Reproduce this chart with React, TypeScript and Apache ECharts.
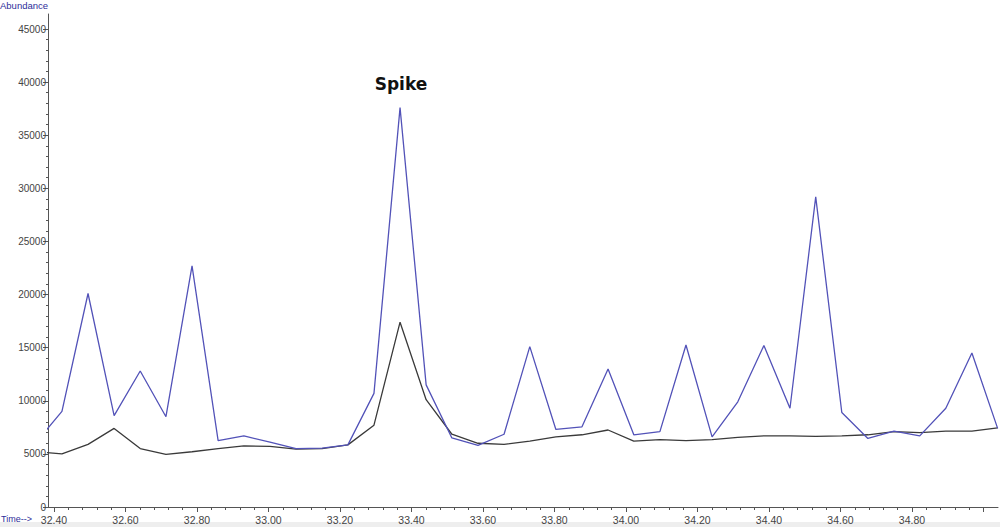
import React, { useEffect, useRef } from "react";
import * as echarts from "echarts";

// Retention time (min) of each scan
const times = [32.350, 32.422, 32.495, 32.568, 32.641, 32.713, 32.786, 32.859, 32.931, 33.004, 33.077, 33.150, 33.222, 33.295, 33.368, 33.441, 33.513, 33.586, 33.659, 33.731, 33.804, 33.877, 33.950, 34.022, 34.095, 34.168, 34.241, 34.313, 34.386, 34.459, 34.531, 34.604, 34.677, 34.750, 34.822, 34.895, 34.968, 35.040];
// Blue trace (spiked)
const blueValues = [6100, 9000, 20100, 8600, 12800, 8500, 22700, 6250, 6700, 6100, 5500, 5550, 5850, 10700, 37600, 11500, 6500, 5800, 6850, 15100, 7300, 7550, 13000, 6800, 7100, 15250, 6600, 9900, 15200, 9300, 29200, 8900, 6450, 7150, 6700, 9300, 14500, 7400];
// Black trace
const blackValues = [5200, 5000, 5900, 7400, 5500, 4950, 5200, 5500, 5750, 5700, 5450, 5500, 5850, 7700, 17400, 10100, 6850, 6000, 5900, 6200, 6600, 6800, 7250, 6200, 6350, 6250, 6350, 6550, 6700, 6700, 6650, 6700, 6800, 7100, 7000, 7150, 7150, 7450];
const annotation = "Spike";
const yTitle = "Abundance";
const xTitle = "Time-->";

export default function App() {
  const ref = useRef<HTMLDivElement>(null);
  useEffect(() => {
    if (!ref.current) return;
    const chart = echarts.init(ref.current, undefined, { renderer: "svg" });
    const font = "'Liberation Sans', Arial, sans-serif";
    const axisColor = "#555";
    chart.setOption({
      animation: false,
      backgroundColor: "#ffffff",
      textStyle: { fontFamily: font },
      grid: [
        { left: 48, right: 2, top: 14, bottom: 20 },
        { left: 54, right: 16.5, top: 29, bottom: 20 },
      ],
      xAxis: [
        {
          gridIndex: 0, type: "value", min: 32.383, max: 35.041,
          axisLine: { show: true, lineStyle: { color: axisColor, width: 1 } },
          axisTick: { show: false }, axisLabel: { show: false }, splitLine: { show: false },
        },
        {
          gridIndex: 1, type: "value", min: 32.4, max: 35.0, interval: 0.2,
          axisLine: { show: false },
          axisTick: { show: true, length: 5, lineStyle: { color: axisColor } },
          minorTick: { show: true, splitNumber: 5, length: 3, lineStyle: { color: axisColor } },
          axisLabel: {
            show: true, fontSize: 10.5, color: "#444", margin: 7, fontFamily: font,
            formatter: (v: number) => (Math.abs(v - 35) < 1e-6 ? "" : v.toFixed(2)),
          },
          splitLine: { show: false }, minorSplitLine: { show: false },
        },
      ],
      yAxis: [
        {
          gridIndex: 0, type: "value", min: 0, max: 46413,
          axisLine: { show: true, lineStyle: { color: axisColor, width: 1 } },
          axisTick: { show: false }, axisLabel: { show: false }, splitLine: { show: false },
        },
        {
          gridIndex: 1, type: "value", min: 0, max: 45000, interval: 5000, offset: 6,
          axisLine: { show: false },
          axisTick: { show: true, length: 5, lineStyle: { color: axisColor } },
          minorTick: { show: true, splitNumber: 5, length: 2, lineStyle: { color: axisColor } },
          axisLabel: {
            show: true, fontSize: 10, color: "#444", margin: 2, fontFamily: font,
            formatter: (v: number) => String(v),
          },
          splitLine: { show: false }, minorSplitLine: { show: false },
        },
      ],
      series: [
        {
          type: "line", xAxisIndex: 0, yAxisIndex: 0,
          data: times.map((t, i) => [t, blackValues[i]]),
          symbol: "none", lineStyle: { color: "#3a3a3a", width: 1.3 },
        },
        {
          type: "line", xAxisIndex: 0, yAxisIndex: 0,
          data: times.map((t, i) => [t, blueValues[i]]),
          symbol: "none", lineStyle: { color: "#5252b8", width: 1.3 },
        },
      ],
      graphic: [
        {
          type: "rect", left: 0, top: 522, z: -10,
          shape: { width: 1000, height: 5 },
          style: { fill: "#eeeeee" },
        },
        {
          type: "text", left: 0, top: 0,
          style: { text: yTitle, fontSize: 9.5, fill: "#2e2e9a", fontFamily: font },
        },
        {
          type: "text", left: 1, top: 514,
          style: { text: xTitle, fontSize: 9, fill: "#2e2e9a", fontFamily: font },
        },
        {
          type: "text", x: 401, y: 84,
          style: {
            text: annotation, fontSize: 17, fontWeight: "bold", fill: "#111",
            fontFamily: "'DejaVu Sans', sans-serif", align: "center", verticalAlign: "middle",
          },
        },
      ],
    });
    return () => chart.dispose();
  }, []);
  return (
    <div
      ref={ref}
      style={{ position: "fixed", left: 0, top: 0, width: 1000, height: 527 }}
    />
  );
}
